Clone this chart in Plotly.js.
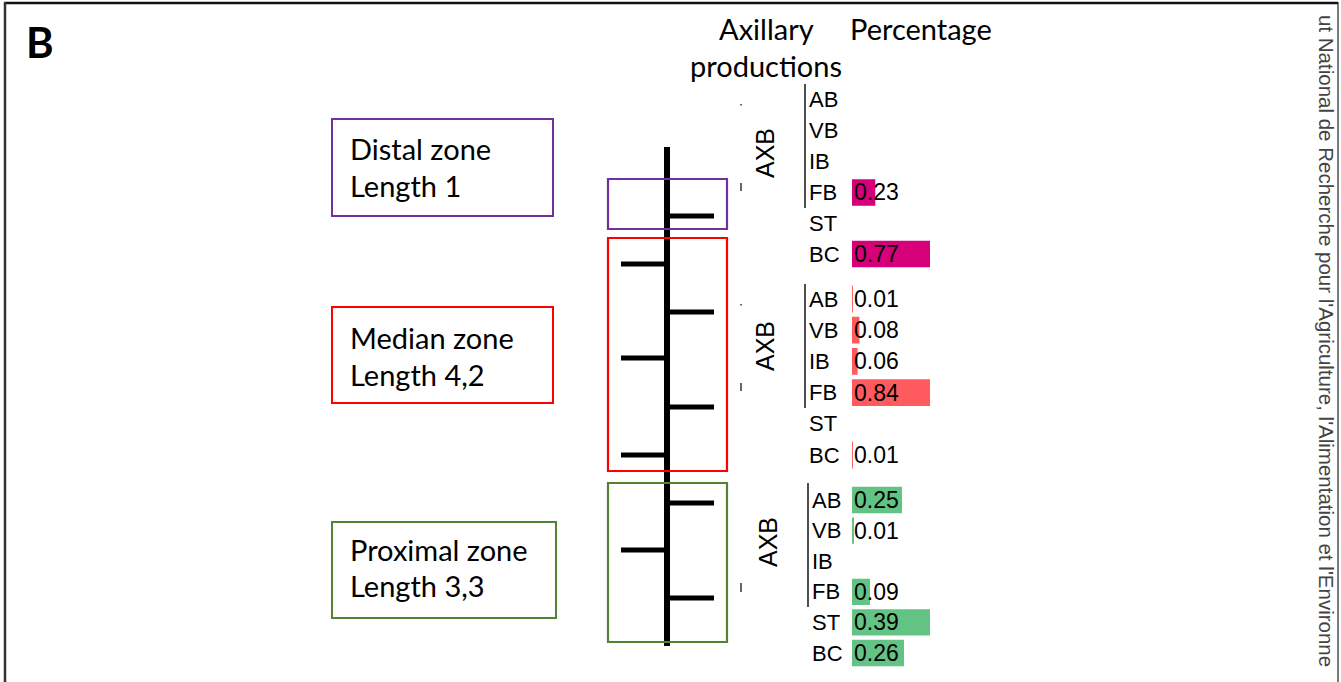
<!DOCTYPE html>
<html>
<head>
<meta charset="utf-8">
<script src="https://cdn.plot.ly/plotly-3.0.1.min.js"></script>
<style>html,body{margin:0;padding:0;background:#fff;}#chart{width:1341px;height:682px;}</style>
</head>
<body>
<div id="chart"></div>
<script>
// ---- data ----
const categories = ['AB', 'VB', 'IB', 'FB', 'ST', 'BC'];
const distalValues = [null, null, null, 0.23, null, 0.77];
const medianValues = [0.01, 0.08, 0.06, 0.84, null, 0.01];
const proximalValues = [0.25, 0.01, null, 0.09, 0.39, 0.26];
const zoneNames = ['Distal zone', 'Median zone', 'Proximal zone'];
const zoneLengths = ['Length 1', 'Length 4,2', 'Length 3,3'];
const groupLabel = 'AXB';
const panelLetter = 'B';
const headerProductions = ['Axillary', 'productions'];
const headerPercentage = 'Percentage';
const sourceText = "ut National de Recherche pour l'Agriculture, l'Alimentation et l'Environne";

// ---- styling / geometry ----
const W = 1341, H = 682;
const zoneValues = [distalValues, medianValues, proximalValues];
const barColors = ['#D6007B', '#FF5A5E', '#63C384'];
const boxColors = ['#7030A0', '#FF0000', '#548235'];
// vertical extent (px) of each zone's category rows
const rowBands = [[84.6, 269.4], [283.4, 470.6], [484.7, 668.3]];
const barLeft = 852, barRight = 930;
const labelX = [807, 807, 810];
const axbX = [765, 765, 768];
const bracketX = [805, 805, 808];
const bracketY = [[84, 208], [284, 408], [483, 607]];
const labelBoxes = [[332, 119, 553, 216], [332, 307, 553, 403], [332, 522, 556, 618]];
const zoneBoxes = [[608, 179, 727, 229], [608, 238, 727, 471], [608, 483, 727, 642]];
const textLines = [[148, 185], [337, 374], [549, 585]];

const labelFont = {family: 'Liberation Sans, Arial, sans-serif', size: 22, color: '#000'};
const valueFont = {family: 'Liberation Sans, Arial, sans-serif', size: 23, color: '#000'};
const calFont = {family: 'Lato, Carlito, Calibri, sans-serif', size: 29, color: '#000'};

const traces = [];
const annotations = [];
const shapes = [];
const layout = {
  width: W, height: H,
  margin: {l: 0, r: 0, t: 0, b: 0},
  paper_bgcolor: '#fff', plot_bgcolor: 'rgba(0,0,0,0)',
  showlegend: false,
  xaxis: {range: [0, W], visible: false, fixedrange: true, domain: [0, 1]},
  yaxis: {range: [H, 0], visible: false, fixedrange: true, domain: [0, 1]},
  annotations: annotations,
  shapes: shapes
};

// invisible base trace to establish pixel axes
traces.push({x: [0, W], y: [0, H], mode: 'markers', marker: {opacity: 0}, hoverinfo: 'skip', xaxis: 'x', yaxis: 'y'});

zoneValues.forEach((vals, i) => {
  const n = i + 2;
  const xa = 'xaxis' + n, ya = 'yaxis' + n;
  const maxV = Math.max(...vals.filter(v => v !== null));
  layout[xa] = {domain: [barLeft / W, barRight / W], range: [0, maxV], visible: false, anchor: 'y' + n, fixedrange: true};
  layout[ya] = {domain: [1 - rowBands[i][1] / H, 1 - rowBands[i][0] / H], type: 'category',
    categoryorder: 'array', categoryarray: categories, range: [categories.length - 0.5, -0.5],
    visible: false, anchor: 'x' + n, fixedrange: true};
  traces.push({
    type: 'bar', orientation: 'h', x: vals, y: categories,
    xaxis: 'x' + n, yaxis: 'y' + n, width: 0.86,
    marker: {color: barColors[i], line: {width: 0}}, hoverinfo: 'x+y'
  });
  categories.forEach((c, k) => {
    annotations.push({xref: 'x', yref: 'y' + n, x: labelX[i], y: c, text: c, showarrow: false,
      xanchor: 'left', yanchor: 'middle', font: labelFont});
    if (vals[k] !== null) {
      annotations.push({xref: 'x' + n, yref: 'y' + n, x: 0, y: c, text: vals[k].toFixed(2), showarrow: false,
        xanchor: 'left', yanchor: 'middle', xshift: 0, font: valueFont});
    }
  });
  annotations.push({xref: 'x', yref: 'y', x: axbX[i], y: [153, 346, 542][i], text: groupLabel, textangle: -90,
    showarrow: false, font: {family: labelFont.family, size: 25, color: '#000'}});
  shapes.push({type: 'line', xref: 'x', yref: 'y', x0: bracketX[i], x1: bracketX[i], y0: bracketY[i][0], y1: bracketY[i][1],
    line: {color: '#222', width: 1.6}});
  const b = labelBoxes[i];
  shapes.push({type: 'rect', xref: 'x', yref: 'y', x0: b[0], y0: b[1], x1: b[2], y1: b[3], line: {color: boxColors[i], width: 2}});
  annotations.push({xref: 'x', yref: 'y', x: 348, y: textLines[i][0], text: zoneNames[i], showarrow: false, xanchor: 'left', yanchor: 'middle', font: calFont});
  annotations.push({xref: 'x', yref: 'y', x: 348, y: textLines[i][1], text: zoneLengths[i], showarrow: false, xanchor: 'left', yanchor: 'middle', font: calFont});
});

// schematic: main stem and branches
const black = '#000';
shapes.push({type: 'line', xref: 'x', yref: 'y', x0: 667, x1: 667, y0: 147, y1: 646, line: {color: black, width: 6}});
const rightBranches = [216, 312, 407, 503, 598];
const leftBranches = [264, 358, 455, 550];
rightBranches.forEach(y => shapes.push({type: 'line', xref: 'x', yref: 'y', x0: 667, x1: 714, y0: y, y1: y, line: {color: black, width: 5}}));
leftBranches.forEach(y => shapes.push({type: 'line', xref: 'x', yref: 'y', x0: 621, x1: 667, y0: y, y1: y, line: {color: black, width: 5}}));
zoneBoxes.forEach((b, i) => shapes.push({type: 'rect', xref: 'x', yref: 'y', x0: b[0], y0: b[1], x1: b[2], y1: b[3], line: {color: boxColors[i], width: 2.2}}));

// small cropped marks
[[104, 105.5], [183, 191], [304, 305.5], [383, 391], [583, 592]].forEach(m =>
  shapes.push({type: 'line', xref: 'x', yref: 'y', x0: 741, x1: 741, y0: m[0], y1: m[1], line: {color: '#333', width: 1.5}}));

// frame
shapes.push({type: 'line', xref: 'x', yref: 'y', x0: 4, x1: 1338, y0: 3, y1: 3, line: {color: '#111', width: 2.5}});
shapes.push({type: 'line', xref: 'x', yref: 'y', x0: 5, x1: 5, y0: 2, y1: H, line: {color: '#333', width: 2.5}});
shapes.push({type: 'line', xref: 'x', yref: 'y', x0: 1338, x1: 1338, y0: 2, y1: H, line: {color: '#222', width: 1.2}});

// headers
annotations.push({xref: 'x', yref: 'y', x: 40, y: 42, text: '<b>' + panelLetter + '</b>', showarrow: false, font: {family: 'Lato, Calibri, sans-serif', size: 42, color: '#000'}});
annotations.push({xref: 'x', yref: 'y', x: 766, y: 28, text: headerProductions[0], showarrow: false, font: calFont});
annotations.push({xref: 'x', yref: 'y', x: 766, y: 65, text: headerProductions[1], showarrow: false, font: calFont});
annotations.push({xref: 'x', yref: 'y', x: 921, y: 28, text: headerPercentage, showarrow: false, font: calFont});
annotations.push({xref: 'x', yref: 'y', x: 1327, y: 341, text: sourceText, textangle: 90, showarrow: false,
  font: {family: 'Liberation Sans, Arial, sans-serif', size: 20.5, color: '#444'}});

Plotly.newPlot('chart', traces, layout, {displayModeBar: false, staticPlot: true});
</script>
</body>
</html>
